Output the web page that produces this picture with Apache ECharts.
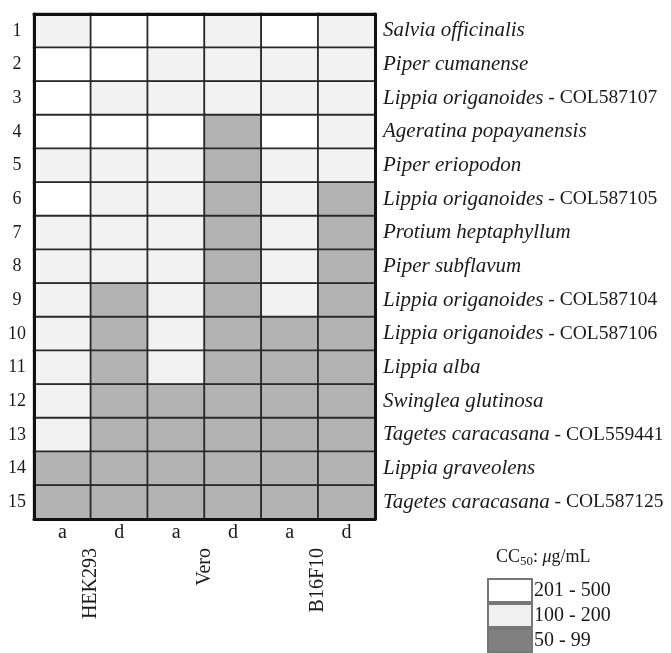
<!DOCTYPE html>
<html>
<head>
<meta charset="utf-8">
<script src="https://cdn.jsdelivr.net/npm/echarts@6/dist/echarts.min.js"></script>
<style>html,body{margin:0;padding:0;background:#fff;}#c{width:671px;height:653px;}</style>
</head>
<body>
<div id="c"></div>
<script>
// Columns (cell line × a/d)
var columns = ['a', 'd', 'a', 'd', 'a', 'd'];
var cellLines = ['HEK293', 'Vero', 'B16F10'];
var rowNumbers = ['1','2','3','4','5','6','7','8','9','10','11','12','13','14','15'];
var speciesNames = ['Salvia officinalis', 'Piper cumanense', 'Lippia origanoides', 'Ageratina popayanensis',
  'Piper eriopodon', 'Lippia origanoides', 'Protium heptaphyllum', 'Piper subflavum', 'Lippia origanoides',
  'Lippia origanoides', 'Lippia alba', 'Swinglea glutinosa', 'Tagetes caracasana', 'Lippia graveolens',
  'Tagetes caracasana'];
var speciesCodes = ['', '', 'COL587107', '', '', 'COL587105', '', '', 'COL587104', 'COL587106', '', '', 'COL559441', '', 'COL587125'];
// CC50 class per row: 0 = 201-500, 1 = 100-200, 2 = 50-99
var classRows = [
  [1,0,0,1,0,1],
  [0,0,1,1,1,1],
  [0,1,1,1,1,1],
  [0,0,0,2,0,1],
  [1,1,1,2,1,1],
  [0,1,1,2,1,2],
  [1,1,1,2,1,2],
  [1,1,1,2,1,2],
  [1,2,1,2,1,2],
  [1,2,1,2,2,2],
  [1,2,1,2,2,2],
  [1,2,2,2,2,2],
  [1,2,2,2,2,2],
  [2,2,2,2,2,2],
  [2,2,2,2,2,2]
];
var classNames = ['201 - 500', '100 - 200', '50 - 99'];
var cellColors = ['#ffffff', '#f2f2f2', '#b3b3b3'];
var legendColors = ['#ffffff', '#f0f0f0', '#808080'];

var serif = 'Liberation Serif';
var heatData = [];
classRows.forEach(function (row, r) {
  row.forEach(function (v, c) { heatData.push([c, r, v]); });
});
var speciesLabels = speciesNames.map(function (n, i) {
  return speciesCodes[i] ? n + '|' + speciesCodes[i] : n;
});

var frameLine = { show: true, lineStyle: { color: '#111', width: 3 } };
var chart = echarts.init(document.getElementById('c'));
chart.setOption({
  animation: false,
  backgroundColor: '#fff',
  title: {
    left: 491, top: 541,
    text: '{n|CC}{s|50}{n|: }{i|μ}{n|g/mL}',
    textStyle: {
      fontWeight: 'normal',
      rich: {
        n: { fontFamily: serif, fontSize: 18, fontWeight: 'normal', color: '#1a1a1a' },
        i: { fontFamily: serif, fontSize: 18, fontWeight: 'normal', color: '#1a1a1a', fontStyle: 'italic' },
        s: { fontFamily: serif, fontSize: 13, fontWeight: 'normal', color: '#1a1a1a', padding: [9, 0, 0, 0] }
      }
    }
  },
  grid: { left: 34, top: 14, width: 341, height: 505, show: false },
  xAxis: [
    { type: 'category', data: columns, position: 'bottom', z: 10, axisLine: frameLine,
      axisTick: { show: false }, splitLine: { show: false },
      axisLabel: { margin: 4, fontFamily: serif, fontSize: 20, color: '#1a1a1a', interval: 0 } },
    { type: 'category', data: columns, position: 'top', z: 10, axisLine: frameLine,
      axisTick: { show: false }, axisLabel: { show: false } },
    { type: 'category', data: cellLines, position: 'bottom', axisLine: { show: false },
      axisTick: { show: false },
      axisLabel: { rotate: 90, margin: 29, fontFamily: serif, fontSize: 20, color: '#1a1a1a', interval: 0 } }
  ],
  yAxis: [
    { type: 'category', data: rowNumbers, inverse: true, position: 'left', z: 10, axisLine: frameLine,
      axisTick: { show: false },
      axisLabel: { interval: 0, align: 'center', margin: 17, fontFamily: serif, fontSize: 18, color: '#1a1a1a' } },
    { type: 'category', data: speciesLabels, inverse: true, position: 'right', z: 10, axisLine: frameLine,
      axisTick: { show: false },
      axisLabel: {
        interval: 0, margin: 8, fontFamily: serif, fontSize: 20, color: '#1a1a1a',
        formatter: function (v) {
          var p = v.split('|');
          return p.length > 1 ? '{i|' + p[0] + '}{n| - ' + p[1] + '}' : '{i|' + p[0] + '}';
        },
        rich: {
          i: { fontFamily: serif, fontSize: 21, fontStyle: 'italic', color: '#1a1a1a' },
          n: { fontFamily: serif, fontSize: 19.5, color: '#1a1a1a' }
        }
      } }
  ],
  visualMap: {
    show: false, type: 'piecewise', seriesIndex: 0, dimension: 2,
    pieces: [
      { value: 0, color: cellColors[0] },
      { value: 1, color: cellColors[1] },
      { value: 2, color: cellColors[2] }
    ]
  },
  legend: {
    orient: 'vertical', left: 482, top: 573, height: 120, itemWidth: 44, itemHeight: 23, itemGap: 0,
    icon: 'rect', selectedMode: false,
    textStyle: { fontFamily: serif, fontSize: 20, lineHeight: 22, color: '#1a1a1a', padding: [0, 0, 0, -3] },
    data: classNames
  },
  series: [
    { type: 'heatmap', data: heatData, xAxisIndex: 0, yAxisIndex: 0,
      itemStyle: { borderColor: '#2a2a2a', borderWidth: 1.8 }, emphasis: { disabled: true } }
  ].concat(classNames.map(function (n, i) {
    return { type: 'bar', name: n, data: [], xAxisIndex: 0, yAxisIndex: 0,
      itemStyle: { color: legendColors[i], borderColor: '#777', borderWidth: 1 } };
  }))
});
</script>
</body>
</html>
